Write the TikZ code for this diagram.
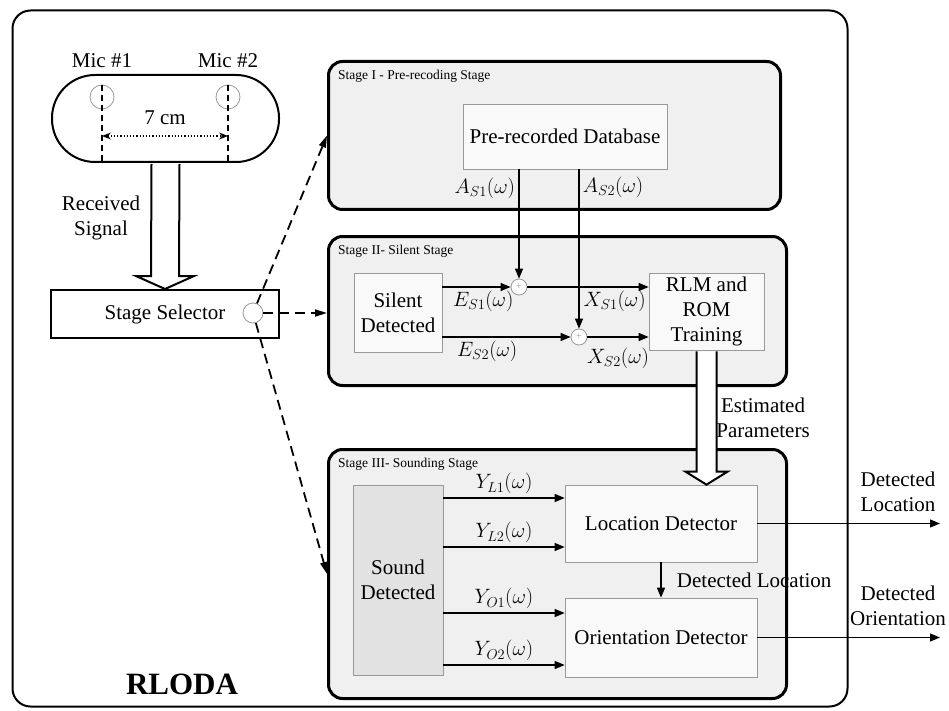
\documentclass[tikz,border=0pt]{standalone}
\usepackage{fontspec}
\setmainfont{Liberation Serif}
\usepackage{tikz}
\usetikzlibrary{arrows.meta,positioning,calc}
\definecolor{stagebg}{gray}{0.94}
\definecolor{blockbg}{gray}{0.975}
\definecolor{soundbg}{gray}{0.885}
\definecolor{blockline}{gray}{0.6}
\definecolor{ringline}{gray}{0.6}
\newcommand{\stagefont}{\fontsize{13.5}{16}\selectfont}

\tikzset{
  stagebox/.style={draw, line width=3pt, rounded corners=14pt, fill=stagebg},
  stagetag/.style={anchor=north west, font=\stagefont, inner sep=0pt, xshift=11pt, yshift=-10pt},
  block/.style={draw=blockline, line width=0.7pt, fill=blockbg, align=center, inner sep=2pt},
  ring/.style={circle, draw=ringline, line width=0.8pt, inner sep=0pt},
  adder/.style={ring, fill=white, minimum size=16pt, font=\fontsize{10}{10}\selectfont\color{ringline}},
  sig/.style={line width=1.2pt, -{Triangle[length=10pt,width=8pt]}},
  selpath/.style={line width=1.8pt, dash pattern=on 10pt off 6pt, -{Triangle[length=12pt,width=7pt]}},
}

% fat hollow arrow: #1 shaft half-width, #2 tail, #3 tip
\newcommand{\hollowarrow}[3]{%
  \draw[line width=2pt, fill=white, line join=miter]
    ($(#2)+(-#1,1)$) -- ($(#3)+(-#1,-13)$) -- ($(#3)+(-2*#1-1,-13)$) -- (#3)
    -- ($(#3)+(2*#1+1,-13)$) -- ($(#3)+(#1,-13)$) -- ($(#2)+(#1,1)$);}

\begin{document}
\begin{tikzpicture}[x=1pt, y=-1pt, font=\fontsize{21}{25}\selectfont]
  \useasboundingbox (0,0) rectangle (949,711);

  % system frame
  \node[draw, line width=2pt, rounded corners=18pt, minimum width=835pt, minimum height=696pt] (frame) at (430,358.5) {};
  \node[font=\fontsize{31}{36}\selectfont\bfseries] (title) at (182,684) {RLODA};

  % microphone pair
  \node[draw, line width=2pt, rounded corners=43pt, minimum width=227pt, minimum height=87pt] (pill) at (165.5,118.5) {};
  \node[ring, minimum size=24pt, label={[label distance=13pt]above:Mic \#1}] (mic1) at (102,97) {};
  \node[ring, minimum size=24pt, label={[label distance=13pt]above:Mic \#2}] (mic2) at (228,97) {};
  \draw[line width=1.5pt, dash pattern=on 6pt off 4pt] (mic1.north) -- (mic1 |- pill.south);
  \draw[line width=1.5pt, dash pattern=on 6pt off 4pt] (mic2.north) -- (mic2 |- pill.south);
  \coordinate (span) at (165,136);
  \draw[line width=1.2pt, dotted, {Stealth[length=9pt,width=7pt]}-{Stealth[length=9pt,width=7pt]}] (span -| mic1) -- (span -| mic2);
  \node (spanlbl) at (165,118) {7 cm};

  \node[draw, line width=2pt, fill=white, minimum width=228pt, minimum height=48pt] (sel) at (165,314) {Stage Selector};
  \node[ring, fill=white, minimum size=20pt] (sw) at (253,313) {};
  \node[align=center] (rx) at (101,218) {Received\\Signal};

  % three stages
  \node[stagebox, minimum width=452pt, minimum height=148pt,
    label={[stagetag]north west:Stage I - Pre-recoding Stage}] (st1) at (554.5,135.5) {};
  \node[stagebox, minimum width=458pt, minimum height=149pt,
    label={[stagetag]north west:Stage II- Silent Stage}] (st2) at (557.5,311) {};
  \node[stagebox, minimum width=458pt, minimum height=249pt,
    label={[stagetag]north west:Stage III- Sounding Stage}] (st3) at (557.5,574) {};

  \draw[selpath] (sw) -- (st1.west);
  \draw[selpath] (sw.east) -- (sw.east -| st2.west);
  \draw[selpath] (sw) -- (st3.west);

  % stage I
  \node[block, minimum width=204pt, minimum height=65pt] (db) at (565,136.5) {Pre-recorded Database};

  % stage II
  \node[block, minimum width=88pt, minimum height=79pt] (sil) at (398,312.5) {Silent\\Detected};
  \node[block, minimum width=115pt, minimum height=77pt] (rlm) at (706.5,311.5) {RLM and\\ROM\\Training};
  \node[adder] (add1) at (519,287) {+};
  \node[adder] (add2) at (579,337) {+};
  \draw[sig] (db.south -| add1) -- node[pos=0.17, left, name=as1] {$A_{S1}(\omega)$} (add1.north);
  \draw[sig] (db.south -| add2) -- node[pos=0.11, right, name=as2] {$A_{S2}(\omega)$} (add2.north);
  \draw[sig] (sil.east |- add1) -- node[pos=0.6, below, name=es1] {$E_{S1}(\omega)$} (add1.west);
  \draw[sig] (add1.east) -- node[pos=0.72, below, name=xs1] {$X_{S1}(\omega)$} (add1 -| rlm.west);
  \draw[sig] (sil.east |- add2) -- node[pos=0.35, below, name=es2] {$E_{S2}(\omega)$} (add2.west);
  \draw[sig] (add2.east) -- node[pos=0.5, below=7pt, name=xs2] {$X_{S2}(\omega)$} (add2 -| rlm.west);

  % stage III
  \node[block, fill=soundbg, minimum width=90pt, minimum height=190pt] (snd) at (398,580) {Sound\\Detected};
  \node[block, minimum width=192pt, minimum height=77pt] (loc) at (661,523.5) {Location Detector};
  \node[block, minimum width=192pt, minimum height=79pt] (ori) at (661,637.5) {Orientation Detector};
  \draw[sig] (snd.east |- 0,498) -- node[above, name=yl1] {$Y_{L1}(\omega)$} (loc.west |- 0,498);
  \draw[sig] (snd.east |- 0,547) -- node[above, name=yl2] {$Y_{L2}(\omega)$} (loc.west |- 0,547);
  \draw[sig] (snd.east |- 0,613) -- node[above, name=yo1] {$Y_{O1}(\omega)$} (ori.west |- 0,613);
  \draw[sig] (snd.east |- 0,665) -- node[above, name=yo2] {$Y_{O2}(\omega)$} (ori.west |- 0,665);
  \draw[sig] (loc.south) -- node[right, xshift=12pt, name=dlin] {Detected Location} (ori.north);

  % outputs
  \coordinate (outx) at (940,0);
  \draw[sig] (loc.east) -- node[pos=0.77, above=8pt, align=center, name=dloc] {Detected\\Location} (loc.east -| outx);
  \draw[sig] (ori.east) -- node[pos=0.77, above=8pt, align=center, name=dori] {Detected\\Orientation} (ori.east -| outx);

  % signal paths between blocks
  \hollowarrow{14}{pill.south}{sel.north}
  \hollowarrow{10}{rlm.south}{rlm.south |- loc.north}
  \node[align=center] (est) at (763,418) {Estimated\\Parameters};
\end{tikzpicture}
\end{document}
